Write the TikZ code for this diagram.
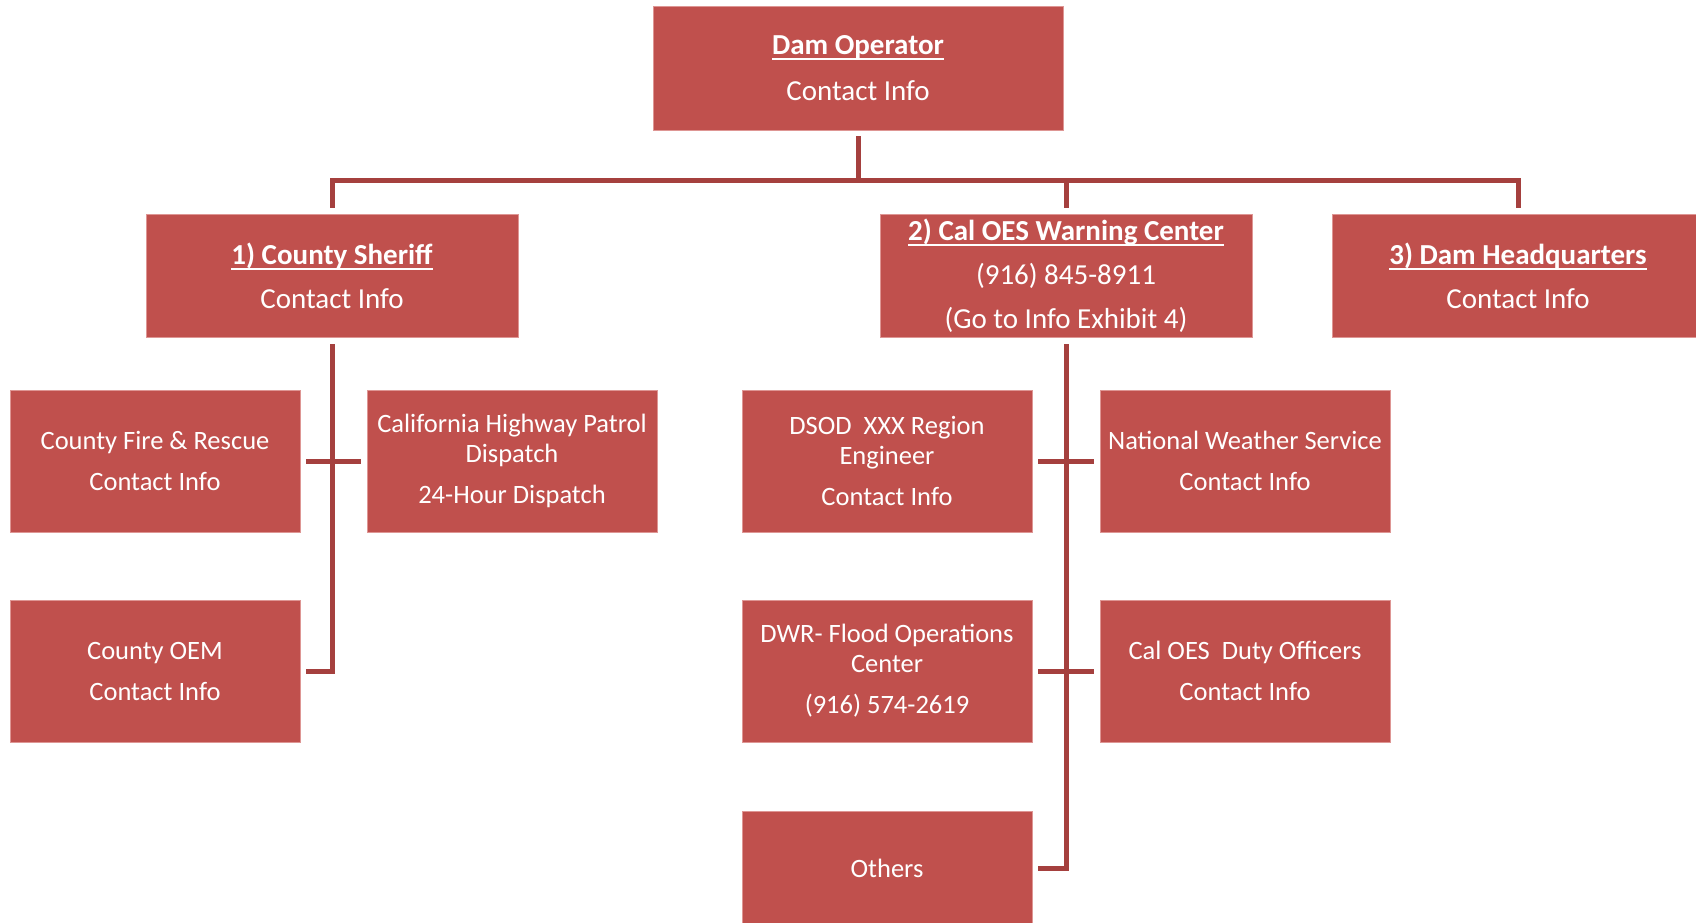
\documentclass[tikz,border=0pt]{standalone}
\usepackage{fontspec}
\setmainfont{Carlito}
\newsavebox{\myulbox}
\newcommand{\myul}[1]{\sbox{\myulbox}{#1}\leavevmode\rlap{\rule[-3pt]{\wd\myulbox}{1pt}}\usebox{\myulbox}}
\usetikzlibrary{calc}
\definecolor{boxred}{RGB}{192,80,77}
\definecolor{linered}{RGB}{165,64,62}
\definecolor{edgered}{RGB}{222,150,148}
\begin{document}
\begin{tikzpicture}[x=0.5pt,y=-0.5pt,
  box/.style={fill=boxred,draw=edgered,line width=0.4pt,text=white,align=center,inner sep=0pt},
  topbox/.style={box,minimum width=205pt,minimum height=62pt,font=\fontsize{14.5}{16}\selectfont},
  midbox/.style={box,minimum width=186pt,minimum height=61.5pt,font=\fontsize{14.5}{16}\selectfont},
  lowbox/.style={box,minimum width=145pt,minimum height=71pt,font=\fontsize{13.25}{15}\selectfont},
  conn/.style={draw=linered,line width=2.5pt,line join=miter}]
\useasboundingbox[fill=white] (0,0) rectangle (1696,922);
% level 1
\node[topbox] (op) at (858,68) {\myul{\textbf{Dam Operator}}\\[7pt]Contact Info};
% level 2
\node[midbox] (sh) at (332,275.5) {\myul{\textbf{1) County Sheriff}}\\[6pt]Contact Info};
\node[midbox] (oes) at (1066,275.5) {\myul{\textbf{2) Cal OES Warning Center}}\\[6pt](916) 845-8911\\[6pt](Go to Info Exhibit 4)};
\node[midbox] (hq) at (1518,275.5) {\myul{\textbf{3) Dam Headquarters}}\\[6pt]Contact Info};
% level 3
\node[lowbox] (fire) at (155,461) {County Fire \& Rescue\\[5.5pt]Contact Info};
\node[lowbox] (chp) at (512,461) {California Highway Patrol\\Dispatch\\[5.5pt]24-Hour Dispatch};
\node[lowbox] (oem) at (155,671) {County OEM\\[5.5pt]Contact Info};
\node[lowbox] (dsod) at (887,461) {DSOD\ \ XXX Region\\Engineer\\[5.5pt]Contact Info};
\node[lowbox] (nws) at (1245,461) {National Weather Service\\[5.5pt]Contact Info};
\node[lowbox] (dwr) at (887,671) {DWR- Flood Operations\\Center\\[5.5pt](916) 574-2619};
\node[lowbox] (duty) at (1245,671) {Cal OES\ \ Duty Officers\\[5.5pt]Contact Info};
\node[lowbox,minimum height=57pt] (oth) at (887,868) {Others};
% connectors
\coordinate (bar) at (858,180);
\draw[conn] ($(op.south)+(0,6)$) -- (op.south |- bar);
\draw[conn] ($(sh.north)+(0,-6)$) -- (sh.north |- bar) -- (hq.north |- bar) -- ($(hq.north)+(0,-6)$);
\draw[conn] (oes.north |- bar) -- ($(oes.north)+(0,-6)$);
\draw[conn] ($(sh.south)+(0,7)$) -- (sh.south |- oem.east) -- ($(oem.east)+(6,0)$);
\draw[conn] ($(fire.east)+(6,0)$) -- ($(chp.west)+(-6,0)$);
\draw[conn] ($(oes.south)+(0,7)$) -- (oes.south |- oth.east) -- ($(oth.east)+(6,0)$);
\draw[conn] ($(dsod.east)+(6,0)$) -- ($(nws.west)+(-6,0)$);
\draw[conn] ($(dwr.east)+(6,0)$) -- ($(duty.west)+(-6,0)$);
\end{tikzpicture}
\end{document}
